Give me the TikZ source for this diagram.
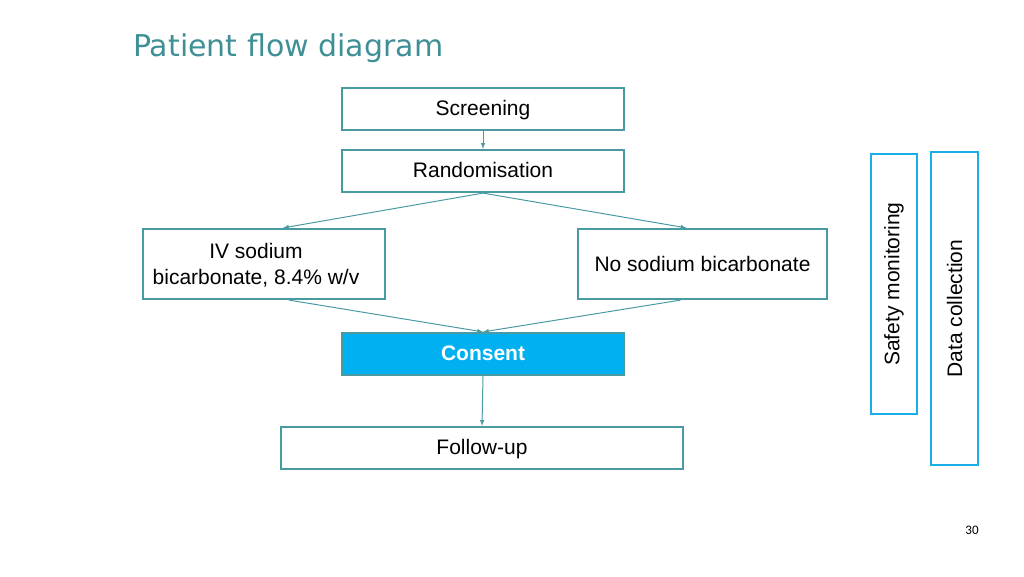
\documentclass[tikz,border=0pt]{standalone}
\usepackage{fontspec}
\setmainfont{Liberation Sans}
\newfontfamily\titlefont{DejaVu Sans}
\newfontfamily\pagefont{Carlito}
\usepackage{tikz}
\tikzset{>=latex}
\usetikzlibrary{calc}
\definecolor{flowline}{HTML}{4A9BA1}
\definecolor{flowtitle}{HTML}{3E8F96}
\definecolor{consentfill}{HTML}{00B0F0}
\definecolor{sidebox}{HTML}{1AAEE6}
\tikzset{stage/.style={draw=flowline, line width=2.2pt, minimum height=42pt, inner sep=0pt, font=\fontsize{21}{26}\selectfont, align=center}}
\tikzset{sidestage/.style={draw=sidebox, line width=2.2pt, rotate=90, inner sep=0pt, font=\fontsize{21}{26}\selectfont}}
\tikzset{flow/.style={->, flowline, line width=1pt}}

\begin{document}
\begin{tikzpicture}[x=1pt, y=-1pt]
                \useasboundingbox (0, 0) rectangle (1024, 576);
                \node[anchor=base west, text=flowtitle, inner sep=0pt, font=\titlefont\fontsize{30}{36}\selectfont] (title) at (133, 56) {Patient flow diagram};
                \node[stage, minimum width=282pt, text depth=2pt] (screen) at (483, 109) {Screening};
                \node[stage, minimum width=282pt, text depth=2pt] (random) at (483, 171) {Randomisation};
                \node[stage, minimum width=242pt, minimum height=70pt] (ivsodium) at (264, 264) {};
                \node[align=center, font=\fontsize{21}{26}\selectfont] (ivtext) at (256, 265) {IV sodium\\bicarbonate, 8.4\% w/v};
                \node[stage, minimum width=249pt, minimum height=70pt] (nosodium) at (702.5, 264) {No sodium bicarbonate};
                \node[stage, minimum width=282pt, text depth=2pt, fill=consentfill, text=white, font=\fontsize{21}{26}\selectfont\bfseries] (consent) at (483, 354) {Consent};
                \node[stage, minimum width=402pt, text depth=2pt] (followup) at (482, 448) {Follow-up};
                \node[sidestage, minimum width=260pt, minimum height=46pt] (safety) at (894, 284) {Safety monitoring};
                \node[sidestage, minimum width=313pt, minimum height=47pt] (datacoll) at (954.5, 308.5) {Data collection};
                \node[font=\pagefont\fontsize{13}{15}\selectfont] (pagenum) at (972, 530) {30};
                \draw[flow] (screen.south) -- (random.north);
                \draw[flow] (random.south) -- ([xshift=19pt]ivsodium.north);
                \draw[flow] (random.south) -- ([xshift=-16pt]nosodium.north);
                \draw[flow] ([xshift=25pt]ivsodium.south) -- (consent.north);
                \draw[flow] ([xshift=-22pt]nosodium.south) -- (consent.north);
                \draw[flow] (consent.south) -- (followup.north);
            \end{tikzpicture}
\end{document}
